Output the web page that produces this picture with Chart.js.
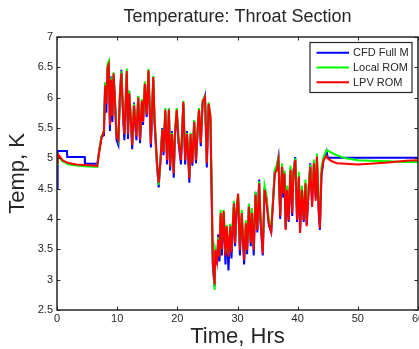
<!DOCTYPE html>
<html>
<head>
<meta charset="utf-8">
<script src="https://cdn.jsdelivr.net/npm/chart.js@4.4.1/dist/chart.umd.min.js"></script>
<style>
html, body { margin: 0; padding: 0; background: #fff; }
</style>
</head>
<body>
<canvas id="myChart" width="419" height="349"></canvas>
<script>
// values (hours / kelvin)
const hours = [
  0, 0.1, 0.3, 0.9, 1.65, 1.7, 2.1, 3.2, 4.6, 4.65, 6.0, 6.7,
  7.0, 7.4, 7.8, 8.0, 8.2, 8.4, 8.6, 8.8, 9.0, 9.2,
  9.4, 9.6, 9.9, 10.2, 10.45, 10.7, 11.0, 11.2, 11.6, 11.8,
  12.0, 12.3, 12.5, 12.8, 13.0, 13.2, 13.5, 13.8, 14.1, 14.3,
  14.6, 14.9, 15.2, 15.6, 16.0, 16.2, 16.6, 16.9, 17.2, 17.5,
  17.7, 18.0, 18.3, 18.6, 18.8, 19.1, 19.4, 19.6, 19.9, 20.2,
  20.6, 21.0, 21.3, 21.6, 22.0, 22.2, 22.5, 22.8, 23.1, 23.4,
  23.6, 23.9, 24.2, 24.6, 24.9, 25.2, 25.5, 25.9, 26.2, 26.3,
  26.6, 26.8, 27.0, 27.2, 27.4, 27.7, 28.0, 28.2, 28.5, 28.8,
  29.0, 29.4, 29.6, 29.8, 30.1, 30.4, 30.7, 31.1, 31.4, 31.6,
  31.9, 32.2, 32.4, 32.7, 33.0, 33.3, 33.6, 33.8, 34.2, 34.5,
  34.8, 35.2, 35.6, 35.9, 36.2, 36.5, 36.8, 37.1, 37.4, 37.6,
  37.8, 38.0, 38.25, 38.5, 38.8, 39.1, 39.3, 39.6, 39.9, 40.2,
  40.4, 40.7, 41.0, 41.3, 41.5, 41.8, 42.1, 42.4, 42.7, 43.0,
  43.2, 43.5, 43.7, 43.95, 44.3, 44.8, 45.0, 45.5, 46.5, 48,
  50, 52, 55, 58, 60
];

const cfdFull = [
  4.5, 5.12, 5.12, 5.12, 5.12, 5.02, 5.02, 5.02, 5.02, 4.91, 4.91, 4.91,
  5.12, 5.36, 5.38, 6.25, 5.75, 6.45, 6.5, 5.45, 6.35, 5.6,
  6.35, 6.05, 5.3, 5.22, 6.05, 6.46, 5.65, 5.3, 6.4, 5.32,
  6.1, 5.55, 5.15, 5.92, 5.55, 5.3, 6.02, 5.25, 5.9, 5.55,
  6.2, 5.68, 6.42, 5.18, 6.3, 5.6, 4.9, 4.52, 4.95, 5.5,
  5.05, 5.75, 4.9, 5.82, 4.8, 5.45, 4.68, 5.35, 5.78, 5.25,
  4.9, 5.9, 4.9, 5.45, 4.6, 5.35, 4.88, 5.62, 4.92, 5.48,
  5.78, 5.2, 5.9, 6.03, 4.85, 5.88, 5.6, 3.2, 2.88, 3.45,
  3.25, 3.75, 3.3, 4.05, 3.4, 4.1, 3.25, 3.85, 3.15, 3.9,
  3.35, 4.2, 3.55, 4.05, 4.35, 3.4, 4.05, 3.25, 3.95, 3.42,
  4.25, 3.55, 4.15, 3.4, 4.45, 3.78, 4.65, 4.0, 3.4, 4.52,
  4.35, 3.9, 3.78, 4.3, 4.8, 4.85, 5.02, 4.0, 4.9, 4.35,
  4.78, 3.85, 4.45, 3.95, 4.78, 4.05, 4.8, 5.02, 3.95, 4.65,
  3.8, 4.52, 3.95, 4.55, 3.9, 4.45, 4.92, 4.25, 4.9, 4.35,
  4.98, 4.1, 3.82, 4.7, 4.98, 5.12, 5.01, 5.01, 5.01, 5.01,
  5.01, 5.01, 5.01, 5.01, 5.01
];

const localRom = [
  4.9, 4.98, 5.03, 4.95, 4.92, 4.91, 4.9, 4.88, 4.87, 4.87, 4.86, 4.86,
  5.12, 5.36, 5.45, 6.25, 5.95, 6.55, 6.6, 5.6, 6.33, 5.75,
  6.42, 6.05, 5.4, 5.3, 6.02, 6.44, 5.75, 5.42, 6.48, 5.42,
  6.12, 5.65, 5.25, 5.9, 5.62, 5.38, 6.03, 5.33, 5.98, 5.63,
  6.27, 5.75, 6.47, 5.28, 6.36, 5.72, 4.95, 4.56, 4.98, 5.48,
  5.12, 5.83, 5.0, 5.82, 4.88, 5.42, 4.78, 5.42, 5.83, 5.33,
  5.0, 5.95, 5.02, 5.42, 4.7, 5.42, 4.95, 5.63, 5.0, 5.55,
  5.83, 5.28, 5.96, 6.02, 4.95, 5.92, 5.72, 3.35, 2.83, 3.5,
  3.35, 3.7, 3.42, 4.15, 3.55, 4.15, 3.45, 3.9, 3.42, 3.92,
  3.5, 4.3, 3.65, 4.15, 4.4, 3.52, 4.15, 3.38, 3.98, 3.52,
  4.25, 3.65, 4.18, 3.55, 4.45, 3.88, 4.62, 4.1, 3.5, 4.55,
  4.4, 4.0, 3.85, 4.3, 4.82, 4.88, 5.0, 4.1, 4.92, 4.5,
  4.8, 3.92, 4.55, 4.05, 4.88, 4.15, 4.8, 5.0, 4.1, 4.78,
  3.9, 4.55, 4.1, 4.65, 4.0, 4.5, 4.9, 4.35, 4.98, 4.45,
  5.08, 4.3, 4.0, 4.85, 5.02, 5.14, 5.13, 5.1, 5.05, 5.0,
  4.97, 4.96, 4.95, 4.94, 4.94
];

const lpvRom = [
  4.92, 4.99, 5.05, 4.97, 4.93, 4.93, 4.92, 4.9, 4.89, 4.89, 4.88, 4.87,
  5.1, 5.33, 5.45, 6.2, 5.9, 6.5, 6.55, 5.55, 6.3, 5.7,
  6.4, 6.0, 5.36, 5.3, 6.0, 6.4, 5.7, 5.4, 6.44, 5.4,
  6.07, 5.6, 5.22, 5.87, 5.6, 5.36, 6.0, 5.31, 5.95, 5.6,
  6.23, 5.72, 6.45, 5.24, 6.34, 5.69, 4.97, 4.6, 4.97, 5.47,
  5.1, 5.8, 4.97, 5.8, 4.86, 5.4, 4.75, 5.4, 5.8, 5.3,
  4.97, 5.93, 4.97, 5.4, 4.67, 5.4, 4.92, 5.6, 4.97, 5.52,
  5.8, 5.25, 5.93, 6.01, 4.92, 5.9, 5.7, 3.3, 2.92, 3.49,
  3.3, 3.66, 3.38, 4.1, 3.5, 4.13, 3.4, 3.88, 3.38, 3.88,
  3.45, 4.26, 3.6, 4.1, 4.42, 3.49, 4.1, 3.33, 3.93, 3.49,
  4.2, 3.6, 4.1, 3.49, 4.4, 3.82, 4.59, 4.04, 3.43, 4.48,
  4.3, 3.93, 3.79, 4.26, 4.75, 4.8, 4.97, 4.04, 4.86, 4.42,
  4.75, 3.82, 4.48, 3.98, 4.81, 4.1, 4.75, 4.97, 3.99, 4.7,
  3.77, 4.48, 3.98, 4.59, 3.88, 4.4, 4.86, 4.2, 4.92, 4.3,
  5.03, 4.15, 3.85, 4.75, 4.97, 5.04, 5.0, 4.96, 4.92, 4.91,
  4.9, 4.91, 4.93, 4.96, 4.97
];

const seriesNames = ['CFD Full M', 'Local ROM', 'LPV ROM'];
const seriesColors = ['#0000ff', '#00ff00', '#ff0000'];
const xTicks = [0, 10, 20, 30, 40, 50, 60];
const yTicks = [2.5, 3, 3.5, 4, 4.5, 5, 5.5, 6, 6.5, 7];

const FONT = '"Liberation Sans", Arial, Helvetica, sans-serif';
const INK = '#262626';

function pts(vals) {
  return hours.map((h, i) => ({ x: h, y: vals[i] }));
}

// box, inward ticks and the legend, MATLAB style
const axesBox = {
  id: 'axesBox',
  afterDatasetsDraw(chart) {
    const { ctx, chartArea: a, scales } = chart;
    const x = scales.x, y = scales.y;
    ctx.save();
    ctx.strokeStyle = INK;
    ctx.lineWidth = 1;
    ctx.beginPath();
    xTicks.forEach(v => {
      const px = Math.round(x.getPixelForValue(v)) + 0.5;
      ctx.moveTo(px, a.bottom); ctx.lineTo(px, a.bottom - 3.5);
      ctx.moveTo(px, a.top); ctx.lineTo(px, a.top + 3.5);
    });
    yTicks.forEach(v => {
      const py = Math.round(y.getPixelForValue(v)) + 0.5;
      ctx.moveTo(a.left, py); ctx.lineTo(a.left + 3.5, py);
      ctx.moveTo(a.right, py); ctx.lineTo(a.right - 3.5, py);
    });
    ctx.stroke();
    ctx.lineWidth = 1.5;
    ctx.strokeRect(a.left, a.top, a.right - a.left, a.bottom - a.top);

    // legend
    const lw = 102, lh = 50;
    const lx = a.right - 108, ly = a.top + 5.5;
    ctx.fillStyle = '#fff';
    ctx.fillRect(lx, ly, lw, lh);
    ctx.lineWidth = 1.2;
    ctx.strokeRect(lx, ly, lw, lh);
    ctx.font = '11px ' + FONT;
    ctx.textBaseline = 'middle';
    ctx.textAlign = 'left';
    seriesNames.forEach((name, i) => {
      const yy = ly + 10.3 + i * 14.7;
      ctx.strokeStyle = seriesColors[i];
      ctx.lineWidth = 2;
      ctx.beginPath();
      ctx.moveTo(lx + 6.5, yy); ctx.lineTo(lx + 39, yy);
      ctx.stroke();
      ctx.fillStyle = INK;
      ctx.fillText(name, lx + 43, yy + 0.5);
    });
    ctx.restore();
  }
};

const canvas = document.getElementById('myChart');
const myChart = new Chart(canvas, {
  type: 'line',
  data: {
    datasets: [
      { label: seriesNames[0], data: pts(cfdFull), borderColor: seriesColors[0], order: 3 },
      { label: seriesNames[1], data: pts(localRom), borderColor: seriesColors[1], order: 2 },
      { label: seriesNames[2], data: pts(lpvRom), borderColor: seriesColors[2], order: 1 }
    ]
  },
  options: {
    responsive: false,
    animation: false,
    devicePixelRatio: 1,
    layout: { padding: { left: 0, right: 1, top: 0, bottom: 0 } },
    elements: {
      point: { radius: 0 },
      line: { borderWidth: 2, tension: 0, fill: false }
    },
    plugins: {
      legend: { display: false },
      tooltip: { enabled: false },
      title: {
        display: true,
        fullSize: false,
        text: 'Temperature: Throat Section',
        color: INK,
        font: { family: FONT, size: 18, weight: 'normal' },
        padding: { top: 6, bottom: 9.4 }
      }
    },
    scales: {
      x: {
        type: 'linear',
        min: 0, max: 60,
        afterBuildTicks: s => { s.ticks = xTicks.map(v => ({ value: v })); },
        afterFit: s => { s.height = 39; s.paddingLeft = 0; s.paddingRight = 0; },
        grid: { display: false, drawTicks: false },
        border: { display: false },
        ticks: { color: INK, padding: 2, font: { family: FONT, size: 11 }, callback: v => String(v), maxRotation: 0 },
        title: { display: true, text: 'Time, Hrs', color: INK, font: { family: FONT, size: 22 }, padding: { top: 0, bottom: -1.5 } }
      },
      y: {
        min: 2.5, max: 7,
        afterBuildTicks: s => { s.ticks = yTicks.map(v => ({ value: v })); },
        afterFit: s => { s.width = 57; },
        grid: { display: false, drawTicks: false },
        border: { display: false },
        ticks: { color: INK, padding: 4, font: { family: FONT, size: 11 }, callback: v => String(v) },
        title: { display: true, text: 'Temp, K', color: INK, font: { family: FONT, size: 22 }, padding: { top: 5, bottom: 0 } }
      }
    }
  },
  plugins: [axesBox]
});
</script>
</body>
</html>
